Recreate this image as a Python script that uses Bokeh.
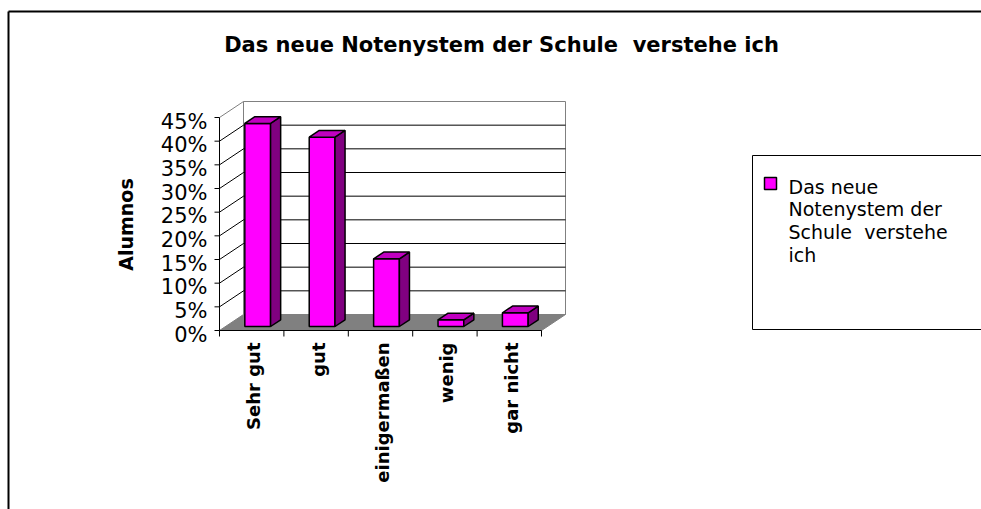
import numpy as np
from bokeh.plotting import figure
from bokeh.models import Range1d
from bokeh.core.properties import value
from bokeh.embed import file_html
from bokeh.resources import INLINE

# ---------------- data ----------------
TITLE = "Das neue Notenystem der Schule \u00a0verstehe ich"
CATEGORIES = ["Sehr gut", "gut", "einigermaßen", "wenig", "gar nicht"]
VALUES = [0.429, 0.400, 0.143, 0.014, 0.029]
Y_TICKS = [0.00, 0.05, 0.10, 0.15, 0.20, 0.25, 0.30, 0.35, 0.40, 0.45]
Y_TICK_LABELS = ["0%", "5%", "10%", "15%", "20%", "25%", "30%", "35%", "40%", "45%"]
Y_LABEL = "Alumnos"
LEGEND_LINES = ["Das neue", "Notenystem der", "Schule \u00a0verstehe", "ich"]

# ---------------- layout constants ----------------
W, H = 981, 509
AX_X, AX_Y0 = 219, 330          # pixel position of front axes origin
PX_CAT = 64.4                    # pixels per category
PX_UNIT = 213 / 0.45             # pixels per 1.0 (100 %)
BASE_FIX = 6                     # baseline correction for svg text

def fx(px):
    return (px - AX_X) / PX_CAT

def fy(py):
    return (AX_Y0 - py) / PX_UNIT

def dx(px):
    return px / PX_CAT

def dy(py):
    return py / PX_UNIT

FONT = value("DejaVu Sans")
MAGENTA, SIDE, TOP = "#FF00FF", "#800080", "#C000C0"
GRAY = "#808080"

p = figure(width=W, height=H, x_range=Range1d(fx(0), fx(W)), y_range=Range1d(fy(H), fy(0)),
           output_backend="svg", toolbar_location=None, min_border=0,
           x_axis_location=None, y_axis_location=None)
p.grid.visible = False
p.outline_line_color = None
p.background_fill_color = "white"
p.border_fill_color = "white"

n = len(CATEGORIES)
ymax = Y_TICKS[-1]
DX, DY = dx(24), dy(16)

# back wall
p.quad(left=DX, right=n + DX, bottom=DY, top=ymax + DY, fill_color="white", line_color=GRAY, line_width=1)
inner = Y_TICKS[1:-1]
k = len(inner)
p.segment(x0=[DX] * k, y0=[t + DY for t in inner], x1=[n + DX] * k, y1=[t + DY for t in inner],
          line_color="black", line_width=1)
# side wall lines
p.segment(x0=[0] * k, y0=inner, x1=[DX] * k, y1=[t + DY for t in inner], line_color="black", line_width=1)
p.segment(x0=[0], y0=[ymax], x1=[DX], y1=[ymax + DY], line_color=GRAY, line_width=1)
# floor
p.patch([0, n, n + DX, DX], [0, 0, DY, DY], fill_color=GRAY, line_color=GRAY)

# bars
D1, D2 = 0.25, 0.67
BW = 0.4
ddx, ddy = DX * (D2 - D1), DY * (D2 - D1)
for i, v in enumerate(VALUES):
    xl = i + 0.5 - BW / 2 + DX * D1
    xr = xl + BW
    yb = DY * D1
    yt = v + DY * D1
    p.quad(left=xl, right=xr, bottom=yb, top=yt, fill_color=MAGENTA, line_color="black", line_width=1.5)
    p.patch([xr, xr + ddx, xr + ddx, xr], [yb, yb + ddy, yt + ddy, yt],
            fill_color=SIDE, line_color="black", line_width=1.5)
    p.patch([xl, xr, xr + ddx, xl + ddx], [yt, yt, yt + ddy, yt + ddy],
            fill_color=TOP, line_color="black", line_width=1.5)

# front axes
p.segment(x0=[0], y0=[0], x1=[0], y1=[ymax], line_color="black", line_width=1)
p.segment(x0=[-dx(5)] * len(Y_TICKS), y0=Y_TICKS, x1=[0] * len(Y_TICKS), y1=Y_TICKS,
          line_color="black", line_width=1)
p.segment(x0=[0], y0=[0], x1=[n], y1=[0], line_color="black", line_width=1)
p.segment(x0=list(range(n + 1)), y0=[0] * (n + 1), x1=list(range(n + 1)), y1=[-dy(6)] * (n + 1),
          line_color="black", line_width=1)

# tick labels
p.text(x=[-dx(12)] * len(Y_TICKS), y=[t - dy(10 - BASE_FIX) for t in Y_TICKS], text=Y_TICK_LABELS,
       text_align="right", text_baseline="alphabetic", text_font=FONT, text_font_size="21px",
       text_color="black")
p.text(x=[i + 0.5 + dx(2) for i in range(n)], y=[-dy(12)] * n, text=CATEGORIES, angle=np.pi / 2,
       text_align="right", text_baseline="middle", text_font=FONT, text_font_size="18px",
       text_font_style="bold", text_color="black")
p.text(x=[fx(125)], y=[fy(224)], text=[Y_LABEL], angle=np.pi / 2, text_align="center",
       text_baseline="middle", text_font=FONT, text_font_size="19px", text_font_style="bold",
       text_color="black")

# title
p.text(x=[fx(501)], y=[fy(50 - BASE_FIX)], text=[TITLE], text_align="center", text_baseline="alphabetic",
       text_font=FONT, text_font_size="21px", text_font_style="bold", text_color="black")

# legend
p.quad(left=fx(752), right=fx(W + 20), top=fy(155), bottom=fy(329), fill_color="white",
       line_color="black", line_width=1)
p.quad(left=fx(764), right=fx(776), top=fy(177), bottom=fy(189), fill_color=MAGENTA,
       line_color="black", line_width=1.5)
p.text(x=[fx(788)] * len(LEGEND_LINES),
       y=[fy(192 - BASE_FIX + 22.7 * j) for j in range(len(LEGEND_LINES))],
       text=LEGEND_LINES, text_align="left", text_baseline="alphabetic", text_font=FONT,
       text_font_size="19px", text_color="black")

# outer chart border
p.segment(x0=[fx(8), fx(8)], y0=[fy(11), fy(11)], x1=[fx(W + 10), fx(8)], y1=[fy(11), fy(H + 10)],
          line_color="black", line_width=2)

open("out.html", "w").write(file_html(p, INLINE))
